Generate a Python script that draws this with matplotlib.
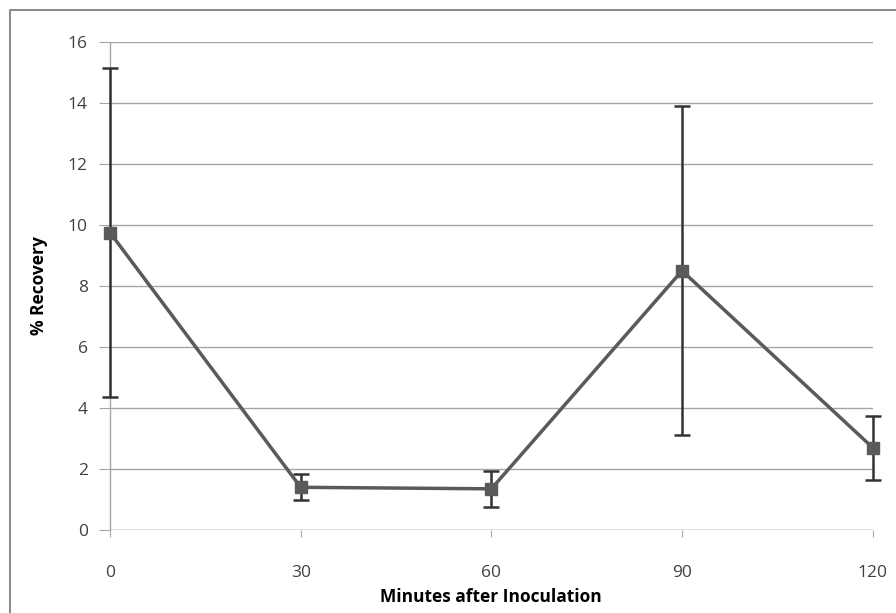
import matplotlib
matplotlib.use("Agg")
import matplotlib.pyplot as plt
from matplotlib.lines import Line2D

minutes = [0, 30, 60, 90, 120]
recovery = [9.75, 1.4, 1.35, 8.5, 2.7]
err = [5.4, 0.42, 0.6, 5.4, 1.05]

plt.rcParams["font.family"] = ["Open Sans", "DejaVu Sans"]

fig = plt.figure(figsize=(8.96, 6.13), dpi=100)
ax = fig.add_axes([0.1228, 0.1354, 0.8512, 0.7961])

# outer chart frame: only top and left edges show in the original crop
fig.lines.append(Line2D([0.0115, 0.0115, 1.0], [0.0, 0.983, 0.983], transform=fig.transFigure,
                        color="#8c8c8c", lw=1.5))

eb = ax.errorbar(minutes, recovery, yerr=err, color="#5a5a5a", lw=2.5, marker="s", ms=8,
                 ecolor="#333333", elinewidth=1.8, capsize=6, capthick=1.8, zorder=3)
for artist in eb.lines[1] + eb.lines[2] + (eb.lines[0],):
    artist.set_clip_on(False)

ax.set_xlim(0, 120)
ax.set_ylim(0, 16)
ax.set_xticks(minutes)
ax.set_yticks(range(0, 17, 2))
ax.grid(axis="y", color="#a6a6a6", lw=1)
ax.set_axisbelow(True)
for s in ["top", "right", "bottom"]:
    ax.spines[s].set_visible(False)
ax.spines["left"].set_color("#a6a6a6")
ax.spines["left"].set_linewidth(1)
ax.axhline(0, color="#a6a6a6", lw=1, zorder=1)
ax.tick_params(axis="y", length=8, color="#a6a6a6", labelsize=12.5, labelcolor="#404040", pad=8)
ax.tick_params(axis="x", length=5, color="#a6a6a6", labelsize=12.5, labelcolor="#404040", pad=20)

ax.set_xlabel("Minutes after Inoculation", fontsize=12.5, fontweight="bold", labelpad=5)
ax.set_ylabel("% Recovery", fontsize=12.5, fontweight="bold", labelpad=14)

plt.savefig("out.png", dpi=100)
